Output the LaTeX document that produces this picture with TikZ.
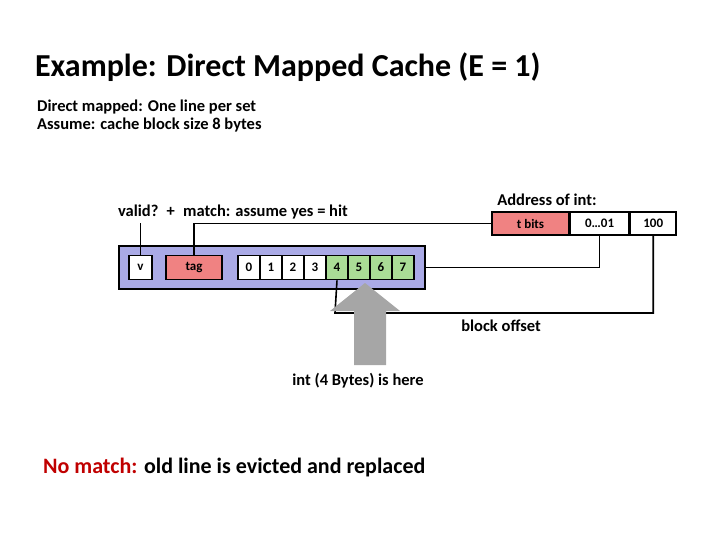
\documentclass[tikz,border=0pt]{standalone}
\usepackage{fontspec}
\setmainfont{Carlito}
\usepackage{xcolor}
\usetikzlibrary{positioning}
\definecolor{setblue}{RGB}{170,170,230}
\definecolor{tagred}{RGB}{240,130,130}
\definecolor{hitgreen}{RGB}{170,220,150}
\definecolor{evictred}{RGB}{192,0,0}
\begin{document}
\begin{tikzpicture}[x=1pt, y=-1pt, line width=1.6pt,
    box/.style={draw, rectangle, inner sep=0pt, font=\fontsize{13}{13}\selectfont\bfseries},
    txt/.style={font=\fontsize{16.5}{18}\selectfont\bfseries}]
    \useasboundingbox (0,0) rectangle (720,540);
    \node[anchor=west, font=\fontsize{32}{34}\selectfont\bfseries] (title) at (31,67) {Example: Direct Mapped Cache (E = 1)};
    \node[anchor=west, txt, align=left] (intro) at (33,116) {Direct mapped: One line per set\\Assume: cache block size 8 bytes};
    % the cache line
    \node[box, fill=setblue, minimum width=306pt, minimum height=43pt] (line) at (272,267.5) {};
    \node[box, fill=white, minimum width=23pt, minimum height=24pt] (v) at (140.5,267.5) {v};
    \node[box, fill=tagred, minimum width=56pt, minimum height=24pt] (tag) at (194,267.5) {tag};
    \foreach \i in {0,...,7} {
        \ifnum\i<4 \def\cellfill{white}\else\def\cellfill{hitgreen}\fi
        \node[box, fill=\cellfill, minimum width=22pt, minimum height=24pt] (b\i) at (249+22*\i,267.5) {\i};
    }
    % the address
    \node[txt, anchor=south] (addr) at (547,210) {Address of int:};
    \node[box, fill=tagred, minimum width=77pt, minimum height=23pt] (tbits) at (530.5,223.5) {t bits};
    \node[box, fill=white, minimum width=58pt, minimum height=23pt, right=0pt of tbits] (idx) {0\ldots01};
    \node[box, fill=white, minimum width=46pt, minimum height=23pt, right=0pt of idx] (off) {100};
    \node[txt, anchor=west] (match) at (114,212) {valid?\enspace +\enspace match: assume yes = hit};
    \node[txt] (offtxt) at (501,326) {block offset};
    \node[txt] (here) at (358,381) {int (4 Bytes) is here};
    \node[anchor=west, font=\fontsize{22}{24}\selectfont\bfseries] (nomatch) at (39,468) {\textcolor{evictred}{No match:} old line is evicted and replaced};
    % connectors
    \draw (v.north) -- (v.north |- match.south);
    \draw (tag.north) |- (tbits.west);
    \draw (idx.south) |- (line.east);
    \draw (off.south) |- (335,313) -- (b4.south);
    \fill[gray!70] (365,283) -- (400,311) -- (386,311) -- (386,365) -- (354,365) -- (354,311) -- (330,311) -- cycle;
\end{tikzpicture}
\end{document}
